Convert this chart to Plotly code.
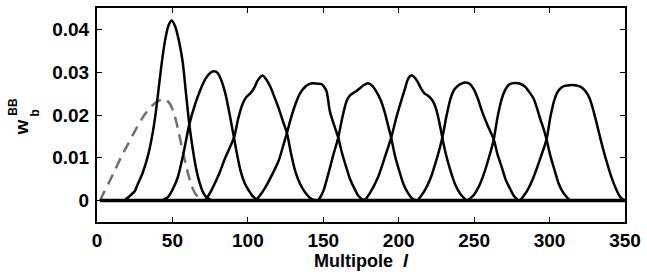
import plotly.graph_objects as go

# ---- data ----
dash_l = [2, 4, 7.5, 12, 16, 20.6, 26, 31.6, 36, 40, 43, 45.8, 48.5, 51.3, 54, 56.8, 59.5, 62.3, 65, 68, 72, 76]
dash_w = [0, 0.0015, 0.0039, 0.0072, 0.0102, 0.0132, 0.0168, 0.0201, 0.0220, 0.0232, 0.0236, 0.0235, 0.0225,
          0.0201, 0.0162, 0.0116, 0.0075, 0.0039, 0.0017, 0.0006, 0.0001, 0]

c1_l = [18, 25, 27.2, 30, 34, 37, 39.3, 42.5, 45, 47.5, 49.6, 52, 54.5, 56.8, 59, 61.2, 63.5, 65.6, 68, 70.5, 73, 76, 80]
c1_w = [0, 0.0022, 0.0040, 0.0062, 0.0108, 0.0160, 0.0215, 0.0310, 0.0372, 0.0410, 0.0421, 0.0405, 0.037, 0.0324,
        0.025, 0.0178, 0.012, 0.0077, 0.0042, 0.0018, 0.0006, 0.0001, 0]

c2_l = [42.5, 47, 50, 53.5, 57, 61.2, 65, 68.9, 72, 75, 77.6, 80, 82.5, 85.3, 88, 90.8, 93, 95.2, 98, 100.7, 103, 106, 110]
c2_w = [0, 0.0008, 0.0025, 0.0054, 0.0105, 0.0178, 0.0225, 0.0262, 0.0285, 0.0298, 0.0302, 0.0298, 0.0280,
        0.0247, 0.0200, 0.0147, 0.0105, 0.0069, 0.0040, 0.0023, 0.0011, 0.0003, 0]

c3_l = [72, 76, 80.9, 85, 90.8, 93.5, 96.3, 99, 101.8, 104, 106.1, 108, 109.9, 112, 114.9, 117.5, 120.4, 123,
        125.9, 128.5, 131.4, 134.5, 138, 142.5, 146]
c3_w = [0, 0.0025, 0.0062, 0.0100, 0.0147, 0.0190, 0.0224, 0.0242, 0.0251, 0.0262, 0.0278, 0.0288, 0.0292,
        0.0284, 0.0266, 0.0243, 0.0216, 0.0188, 0.0158, 0.0112, 0.0069, 0.0040, 0.0019, 0.0003, 0]

c4_l = [105, 108, 111.6, 116, 120.4, 123, 125.9, 128.5, 131.4, 134.5, 138, 140.5, 143.4, 146, 148.9, 150.5,
        152.2, 154.4, 157, 159.9, 162.5, 165.3, 168, 170.8, 173.5, 176.3, 180]
c4_w = [0, 0.0012, 0.0031, 0.0060, 0.0093, 0.0123, 0.0158, 0.0192, 0.0224, 0.0250, 0.0266, 0.0272, 0.0274,
        0.0273, 0.0272, 0.0266, 0.0255, 0.0208, 0.0178, 0.0147, 0.0110, 0.0077, 0.0048, 0.0027, 0.0010, 0.0002, 0]

c5_l = [146.7, 150, 153.3, 156.5, 159.9, 162.5, 165.3, 167.5, 169.7, 172, 174.1, 177, 179.6, 182.5, 185.1, 188,
        190.6, 193, 195, 197.5, 200.4, 203, 205.9, 208.5, 211.4]
c5_w = [0, 0.0022, 0.0062, 0.0105, 0.0147, 0.0192, 0.0231, 0.0245, 0.0251, 0.0256, 0.0262, 0.0270, 0.0274,
        0.0268, 0.0255, 0.0235, 0.0208, 0.0175, 0.0147, 0.0105, 0.0069, 0.0040, 0.0019, 0.0006, 0]

c6_l = [177.4, 181, 186.2, 190.5, 195, 198.5, 201.5, 204, 205.9, 207.3, 208.6, 210.5, 212.5, 214.8, 216.9, 219,
        221.3, 223, 224.6, 226.8, 228.9, 231.5, 234.4, 237.5, 241, 245]
c6_w = [0, 0.0018, 0.0054, 0.0098, 0.0147, 0.0195, 0.0231, 0.0260, 0.0282, 0.0290, 0.0293, 0.0288, 0.0278,
        0.0262, 0.0251, 0.0246, 0.0239, 0.0230, 0.0216, 0.0185, 0.0147, 0.0105, 0.0069, 0.0037, 0.0015, 0]

c7_l = [212.5, 217, 221.3, 225, 228.9, 231.5, 234.4, 237, 239.9, 242, 244.3, 247, 249.8, 252.5, 255.3, 259, 263,
        265.5, 268.4, 271, 273.9, 276.5, 279.4]
c7_w = [0, 0.0022, 0.0054, 0.0095, 0.0147, 0.0195, 0.0239, 0.0260, 0.0270, 0.0274, 0.0276, 0.0273, 0.0260,
        0.0238, 0.0208, 0.0175, 0.0143, 0.0108, 0.0077, 0.0048, 0.0027, 0.0010, 0]

c8_l = [245.4, 249.5, 253, 256.4, 260, 263, 265.5, 268.4, 270.5, 272.8, 275, 277.2, 280.5, 283.8, 286.5, 289.3,
        291.5, 293.6, 296, 298, 300.5, 303.5, 306, 309, 313.4]
c8_w = [0, 0.0012, 0.0032, 0.0062, 0.0103, 0.0143, 0.0195, 0.0239, 0.0258, 0.0270, 0.0274, 0.0275, 0.0273,
        0.0266, 0.0254, 0.0239, 0.0218, 0.0193, 0.0168, 0.0143, 0.0105, 0.0069, 0.0040, 0.0019, 0]

c9_l = [280.5, 285, 289.3, 293.5, 298, 300.5, 303.5, 305.5, 307.9, 310, 312.3, 315, 317.8, 320, 322.1, 324.3,
        326.5, 328.7, 330.9, 333, 335.3, 337.5, 339.7, 342, 344.1, 346.5, 348.5, 350]
c9_w = [0, 0.0022, 0.0054, 0.0095, 0.0143, 0.0195, 0.0239, 0.0255, 0.0264, 0.0268, 0.0269, 0.0270, 0.0269,
        0.0267, 0.0262, 0.0253, 0.0239, 0.0215, 0.0185, 0.0155, 0.0123, 0.0095, 0.0069, 0.0045, 0.0027, 0.0010,
        0.0003, 0]

base_l = [2, 350]
base_w = [0, 0]

x_ticks = [0, 50, 100, 150, 200, 250, 300, 350]
y_ticks = [0, 0.01, 0.02, 0.03, 0.04]
y_labels = ["0", "0.01", "0.02", "0.03", "0.04"]

FONT = "Liberation Sans, Arial, sans-serif"

fig = go.Figure()

solid = [(c1_l, c1_w), (c2_l, c2_w), (c3_l, c3_w), (c4_l, c4_w), (c5_l, c5_w),
         (c6_l, c6_w), (c7_l, c7_w), (c8_l, c8_w), (c9_l, c9_w)]

fig.add_trace(go.Scatter(x=dash_l, y=dash_w, mode="lines",
                         line=dict(color="#707070", width=2.5, dash="11px,7px", shape="spline", smoothing=0.7),
                         showlegend=False, hoverinfo="skip"))
for lx, wy in solid:
    fig.add_trace(go.Scatter(x=lx, y=wy, mode="lines",
                             line=dict(color="black", width=2.5, shape="spline", smoothing=0.7),
                             showlegend=False, hoverinfo="skip"))
fig.add_trace(go.Scatter(x=base_l, y=base_w, mode="lines",
                         line=dict(color="black", width=3.5),
                         showlegend=False, hoverinfo="skip"))

fig.update_layout(
    width=647, height=278,
    margin=dict(l=97, r=18, t=6, b=56),
    paper_bgcolor="white", plot_bgcolor="white",
    font=dict(family=FONT, color="black"),
)
fig.update_xaxes(
    range=[0, 350], tickvals=x_ticks, ticktext=[str(v) for v in x_ticks],
    ticks="inside", ticklen=5, tickwidth=1.2, tickcolor="black",
    showline=True, linewidth=2, linecolor="black", mirror="ticks",
    showgrid=False, zeroline=False,
    tickfont=dict(size=19, family=FONT, weight="bold"),
    title=dict(text="Multipole  <i>l</i>", font=dict(size=18, family=FONT, weight="bold"), standoff=2),
)
fig.update_yaxes(
    range=[-0.005, 0.045], tickvals=y_ticks, ticktext=y_labels,
    ticks="inside", ticklen=5, tickwidth=1.2, tickcolor="black",
    showline=True, linewidth=2, linecolor="black", mirror="ticks",
    showgrid=False, zeroline=False,
    tickfont=dict(size=19, family=FONT, weight="bold"),
    ticklabelstandoff=2,
)

# y-axis title w_b^BB built from rotated pieces
fig.add_annotation(text="w", xref="paper", yref="paper", x=-0.1429, y=0.4398, showarrow=False,
                   textangle=-90, font=dict(size=19, family=FONT, weight="bold"),
                   xanchor="center", yanchor="middle")
fig.add_annotation(text="b", xref="paper", yref="paper", x=-0.1165, y=0.509, showarrow=False,
                   textangle=-90, font=dict(size=12, family=FONT, weight="bold"),
                   xanchor="center", yanchor="middle")
fig.add_annotation(text="BB", xref="paper", yref="paper", x=-0.1598, y=0.537, showarrow=False,
                   textangle=-90, font=dict(size=12, family=FONT, weight="bold"),
                   xanchor="center", yanchor="middle")

fig.write_html("out.html", config={"displayModeBar": False},
               post_script="document.body.style.margin='0';")
